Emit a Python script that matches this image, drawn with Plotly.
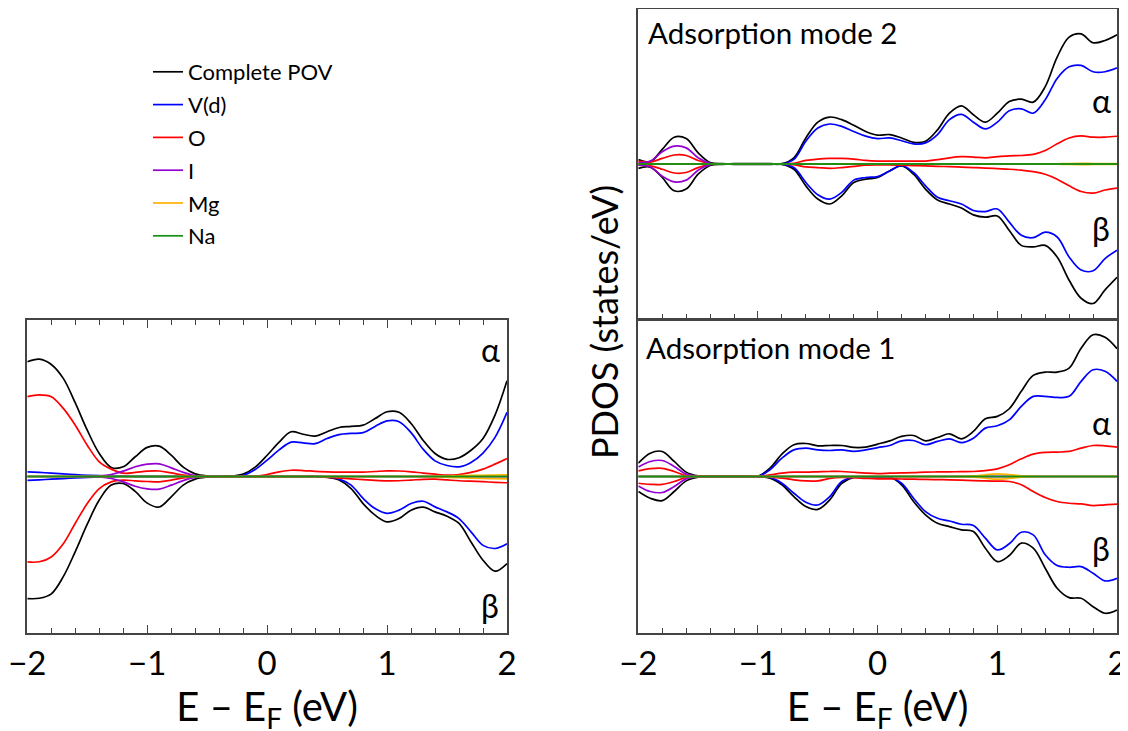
import plotly.graph_objects as go

# Energy grid (eV, relative to Fermi level)
E = [-2.0, -1.9, -1.8, -1.7, -1.6, -1.5, -1.4, -1.3, -1.2, -1.1, -1.0,
     -0.9, -0.8, -0.7, -0.6, -0.5, -0.4, -0.3, -0.2, -0.1, 0.0,
     0.1, 0.2, 0.3, 0.4, 0.5, 0.6, 0.7, 0.8, 0.9, 1.0,
     1.1, 1.2, 1.3, 1.4, 1.5, 1.6, 1.7, 1.8, 1.9, 2.0]

SERIES = ["Complete POV", "V(d)", "O", "I", "Mg", "Na"]
COLORS = ["#000000", "#0000FF", "#FF0000", "#9400D3", "#FFB300", "#158E15"]

# ---------------- Left panel (complete POV) ----------------
L_tot_up = [7.33, 7.5, 7.16, 6.27, 4.7, 2.96, 1.47, 0.58, 0.62, 1.26, 1.86,
            1.94, 1.36, 0.6, 0.17, 0.03, 0.0, 0.02, 0.15, 0.6, 1.36,
            2.2, 2.86, 2.7, 2.58, 2.86, 3.13, 3.2, 3.28, 3.7, 4.14,
            4.1, 3.39, 2.32, 1.47, 1.1, 1.2, 1.68, 2.43, 3.92, 6.12]
L_tot_dn = [-7.8, -7.78, -7.5, -6.4, -4.8, -3.05, -1.5, -0.55, -0.45, -0.95, -1.7,
            -1.95, -1.3, -0.55, -0.17, -0.04, 0.0, 0.0, 0.0, 0.0, 0.0,
            0.0, 0.0, 0.0, 0.0, -0.04, -0.23, -0.77, -1.73, -2.47, -2.9,
            -2.69, -2.15, -1.96, -2.26, -2.54, -3.0, -4.18, -5.35, -6.05, -5.56]
L_vd_up = [0.3, 0.26, 0.22, 0.17, 0.12, 0.08, 0.05, 0.03, 0.02, 0.01, 0.01,
           0.01, 0.01, 0.0, 0.0, 0.0, 0.0, 0.01, 0.08, 0.45, 1.05,
           1.7, 2.2, 2.15, 2.1, 2.43, 2.68, 2.75, 2.8, 3.2, 3.55,
           3.5, 2.8, 1.75, 1.0, 0.7, 0.62, 0.9, 1.5, 2.5, 4.1]
L_vd_dn = [-0.25, -0.21, -0.17, -0.13, -0.09, -0.06, -0.04, -0.02, -0.01, -0.01, -0.01,
           -0.01, 0.0, 0.0, 0.0, 0.0, 0.0, 0.0, 0.0, 0.0, 0.0,
           0.0, 0.0, 0.0, 0.0, -0.03, -0.17, -0.55, -1.4, -2.05, -2.35,
           -2.15, -1.73, -1.58, -1.94, -2.26, -2.69, -3.54, -4.4, -4.6, -4.3]
L_o_up = [5.1, 5.22, 5.1, 4.35, 3.28, 2.0, 0.94, 0.47, 0.21, 0.26, 0.34,
          0.35, 0.23, 0.09, 0.02, 0.0, 0.0, 0.0, 0.0, 0.03, 0.13,
          0.3, 0.4, 0.38, 0.33, 0.3, 0.28, 0.28, 0.28, 0.32, 0.36,
          0.35, 0.3, 0.22, 0.15, 0.09, 0.13, 0.26, 0.47, 0.79, 1.15]
L_o_dn = [-5.46, -5.45, -5.14, -4.3, -2.99, -1.73, -0.77, -0.34, -0.23, -0.28, -0.32,
          -0.34, -0.23, -0.09, -0.03, -0.01, -0.01, -0.01, -0.01, -0.01, -0.01,
          -0.01, -0.01, -0.01, -0.01, -0.05, -0.1, -0.15, -0.2, -0.25, -0.28,
          -0.27, -0.23, -0.18, -0.17, -0.22, -0.27, -0.3, -0.33, -0.37, -0.4]
L_i_up = [0.0, 0.0, 0.0, 0.0, 0.0, 0.0, 0.03, 0.13, 0.34, 0.62, 0.79,
          0.81, 0.55, 0.26, 0.06, 0.01, 0.0, 0.0, 0.0, 0.0, 0.0,
          0.0, 0.0, 0.0, 0.0, 0.0, 0.0, 0.0, 0.0, 0.0, 0.0,
          0.0, 0.0, 0.0, 0.0, 0.0, 0.0, 0.0, 0.0, 0.0, 0.0]
L_i_dn = [0.0, 0.0, 0.0, 0.0, 0.0, 0.0, -0.03, -0.13, -0.34, -0.62, -0.79,
          -0.81, -0.55, -0.26, -0.06, -0.01, 0.0, 0.0, 0.0, 0.0, 0.0,
          0.0, 0.0, 0.0, 0.0, 0.0, 0.0, 0.0, 0.0, 0.0, 0.0,
          0.0, 0.0, 0.0, 0.0, 0.0, 0.0, 0.0, 0.0, 0.0, 0.0]
L_mg_up = [0.0, 0.0, 0.0, 0.0, 0.0, 0.0, 0.0, 0.0, 0.0, 0.0, 0.0,
           0.0, 0.0, 0.0, 0.0, 0.0, 0.0, 0.0, 0.0, 0.0, 0.0,
           0.0, 0.0, 0.0, 0.0, 0.0, 0.0, 0.0, 0.0, 0.0, 0.0,
           0.0, 0.0, 0.0, 0.01, 0.03, 0.05, 0.07, 0.08, 0.09, 0.1]
L_mg_dn = [0.0, 0.0, 0.0, 0.0, 0.0, 0.0, 0.0, 0.0, 0.0, 0.0, 0.0,
           0.0, 0.0, 0.0, 0.0, 0.0, 0.0, 0.0, 0.0, 0.0, 0.0,
           0.0, 0.0, 0.0, 0.0, 0.0, 0.0, 0.0, 0.0, 0.0, 0.0,
           0.0, 0.0, 0.0, -0.02, -0.05, -0.08, -0.1, -0.12, -0.14, -0.15]
L_na_up = [0.0, 0.0, 0.0, 0.0, 0.0, 0.0, 0.0, 0.0, 0.0, 0.0, 0.0,
           0.0, 0.0, 0.0, 0.0, 0.0, 0.0, 0.0, 0.0, 0.0, 0.0,
           0.0, 0.0, 0.0, 0.0, 0.0, 0.0, 0.0, 0.0, 0.0, 0.0,
           0.0, 0.0, 0.0, 0.0, 0.0, 0.0, 0.0, 0.0, 0.0, 0.0]
L_na_dn = [0.0, 0.0, 0.0, 0.0, 0.0, 0.0, 0.0, 0.0, 0.0, 0.0, 0.0,
           0.0, 0.0, 0.0, 0.0, 0.0, 0.0, 0.0, 0.0, 0.0, 0.0,
           0.0, 0.0, 0.0, 0.0, 0.0, 0.0, 0.0, 0.0, 0.0, 0.0,
           0.0, 0.0, 0.0, 0.0, 0.0, 0.0, 0.0, 0.0, 0.0, 0.0]

# ---------------- Adsorption mode 2 (right top) ----------------
M2_tot_up = [0.28, 0.15, 0.94, 1.73, 1.64, 0.72, 0.1, 0.02, 0.02, 0.02, 0.02,
             0.02, 0.02, 0.4, 1.68, 2.7, 3.03, 2.86, 2.5, 2.1, 1.86,
             1.9, 1.68, 1.4, 1.47, 2.2, 3.28, 3.75, 3.18, 2.7, 3.28,
             4.03, 4.18, 3.99, 4.99, 6.9, 8.19, 8.4, 7.82, 7.97, 8.34]
M2_tot_dn = [-0.28, -0.2, -0.87, -1.73, -1.62, -0.66, -0.1, -0.02, -0.02, -0.02, -0.02,
             -0.02, -0.02, -0.34, -1.41, -2.26, -2.58, -2.05, -1.19, -0.98, -0.87,
             -0.45, -0.13, -0.66, -1.62, -2.32, -2.58, -2.84, -3.28, -3.43, -3.35,
             -4.29, -5.25, -5.35, -5.25, -6.0, -7.5, -8.66, -9.0, -8.12, -7.31]
M2_vd_up = [0.0, 0.0, 0.0, 0.0, 0.0, 0.0, 0.0, 0.0, 0.0, 0.0, 0.0,
            0.0, 0.0, 0.3, 1.47, 2.32, 2.58, 2.43, 2.1, 1.8, 1.64,
            1.68, 1.5, 1.3, 1.36, 1.9, 2.86, 3.2, 2.7, 2.26, 2.7,
            3.43, 3.56, 3.28, 4.14, 5.52, 6.27, 6.36, 5.95, 5.95, 6.2]
M2_vd_dn = [0.0, 0.0, 0.0, 0.0, 0.0, 0.0, 0.0, 0.0, 0.0, 0.0, 0.0,
            0.0, 0.0, -0.23, -1.19, -1.98, -2.26, -1.83, -1.04, -0.87, -0.81,
            -0.45, -0.09, -0.55, -1.41, -2.15, -2.37, -2.58, -3.0, -3.07, -2.9,
            -3.75, -4.6, -4.75, -4.4, -4.71, -6.0, -6.84, -6.89, -6.1, -5.56]
M2_o_up = [0.19, 0.12, 0.36, 0.58, 0.55, 0.23, 0.03, 0.01, 0.01, 0.01, 0.01,
           0.01, 0.01, 0.05, 0.23, 0.32, 0.36, 0.36, 0.32, 0.23, 0.19,
           0.19, 0.19, 0.19, 0.19, 0.28, 0.4, 0.47, 0.45, 0.4, 0.47,
           0.53, 0.55, 0.62, 0.87, 1.3, 1.68, 1.81, 1.73, 1.73, 1.79]
M2_o_dn = [-0.08, -0.12, -0.34, -0.58, -0.55, -0.23, -0.03, -0.01, -0.01, -0.01, -0.01,
           -0.01, -0.01, -0.05, -0.19, -0.23, -0.28, -0.23, -0.15, -0.08, -0.06,
           -0.06, -0.08, -0.1, -0.12, -0.15, -0.17, -0.2, -0.23, -0.26, -0.3,
           -0.34, -0.4, -0.49, -0.66, -0.98, -1.41, -1.77, -1.88, -1.68, -1.56]
M2_i_up = [0.08, 0.19, 0.79, 1.15, 1.04, 0.4, 0.04, 0.0, 0.0, 0.0, 0.0,
           0.0, 0.0, 0.0, 0.0, 0.0, 0.0, 0.0, 0.0, 0.0, 0.0,
           0.0, 0.0, 0.0, 0.0, 0.0, 0.0, 0.0, 0.0, 0.0, 0.0,
           0.0, 0.0, 0.0, 0.0, 0.0, 0.0, 0.0, 0.0, 0.0, 0.0]
M2_i_dn = [-0.08, -0.19, -0.79, -1.15, -1.04, -0.4, -0.04, 0.0, 0.0, 0.0, 0.0,
           0.0, 0.0, 0.0, 0.0, 0.0, 0.0, 0.0, 0.0, 0.0, 0.0,
           0.0, 0.0, 0.0, 0.0, 0.0, 0.0, 0.0, 0.0, 0.0, 0.0,
           0.0, 0.0, 0.0, 0.0, 0.0, 0.0, 0.0, 0.0, 0.0, 0.0]
M2_mg_up = [0.0, 0.0, 0.0, 0.0, 0.0, 0.0, 0.0, 0.0, 0.0, 0.0, 0.0,
            0.0, 0.0, 0.0, 0.0, 0.0, 0.0, 0.0, 0.0, 0.0, 0.0,
            0.0, 0.0, 0.0, 0.0, 0.0, 0.0, 0.0, 0.0, 0.0, 0.0,
            0.0, 0.0, 0.0, 0.0, 0.01, 0.03, 0.04, 0.03, 0.02, 0.02]
M2_mg_dn = [0.0, 0.0, 0.0, 0.0, 0.0, 0.0, 0.0, 0.0, 0.0, 0.0, 0.0,
            0.0, 0.0, 0.0, 0.0, 0.0, 0.0, 0.0, 0.0, 0.0, 0.0,
            0.0, 0.0, 0.0, 0.0, 0.0, 0.0, 0.0, 0.0, 0.0, 0.0,
            0.0, 0.0, 0.0, 0.0, -0.01, -0.03, -0.04, -0.03, -0.02, -0.02]
M2_na_up = [0.0, 0.0, 0.0, 0.0, 0.0, 0.0, 0.0, 0.0, 0.0, 0.0, 0.0,
            0.0, 0.0, 0.0, 0.0, 0.0, 0.0, 0.0, 0.0, 0.0, 0.0,
            0.0, 0.0, 0.0, 0.0, 0.0, 0.0, 0.0, 0.0, 0.0, 0.0,
            0.0, 0.0, 0.0, 0.0, 0.0, 0.0, 0.0, 0.0, 0.0, 0.0]
M2_na_dn = [0.0, 0.0, 0.0, 0.0, 0.0, 0.0, 0.0, 0.0, 0.0, 0.0, 0.0,
            0.0, 0.0, 0.0, 0.0, 0.0, 0.0, 0.0, 0.0, 0.0, 0.0,
            0.0, 0.0, 0.0, 0.0, 0.0, 0.0, 0.0, 0.0, 0.0, 0.0,
            0.0, 0.0, 0.0, 0.0, 0.0, 0.0, 0.0, 0.0, 0.0, 0.0]

# ---------------- Adsorption mode 1 (right bottom) ----------------
M1_tot_up = [0.85, 1.49, 1.6, 0.96, 0.28, 0.04, 0.02, 0.02, 0.02, 0.02, 0.02,
             0.53, 1.43, 2.03, 2.11, 1.96, 1.98, 1.98, 1.86, 1.88, 2.07,
             2.28, 2.56, 2.62, 2.28, 2.49, 2.73, 2.41, 2.88, 3.69, 3.84,
             4.33, 5.44, 6.46, 6.67, 6.67, 6.93, 8.2, 9.06, 8.9, 8.17]
M1_tot_dn = [-0.96, -1.39, -1.54, -0.96, -0.28, -0.04, -0.02, -0.02, -0.02, -0.02, -0.02,
             -0.1, -0.53, -1.28, -1.92, -2.1, -1.49, -0.43, -0.06, -0.05, -0.05,
             -0.05, -0.53, -1.6, -2.45, -2.99, -3.2, -3.41, -3.52, -4.58, -5.44,
             -5.05, -4.26, -4.58, -5.86, -7.14, -7.74, -7.78, -8.32, -8.74, -8.53]
M1_vd_up = [0.0, 0.0, 0.0, 0.0, 0.0, 0.0, 0.0, 0.0, 0.0, 0.0, 0.0,
            0.43, 1.17, 1.7, 1.81, 1.7, 1.66, 1.7, 1.6, 1.7, 1.85,
            1.98, 2.28, 2.3, 2.03, 2.24, 2.4, 2.17, 2.45, 3.09, 3.24,
            3.62, 4.48, 5.12, 5.12, 5.05, 5.12, 6.08, 6.82, 6.72, 6.08]
M1_vd_dn = [0.0, 0.0, 0.0, 0.0, 0.0, 0.0, 0.0, 0.0, 0.0, 0.0, 0.0,
            -0.06, -0.43, -1.07, -1.64, -1.82, -1.28, -0.32, -0.05, -0.05, -0.05,
            -0.05, -0.43, -1.39, -2.24, -2.67, -2.84, -3.05, -3.13, -3.94, -4.69,
            -4.3, -3.56, -3.73, -5.0, -5.69, -5.8, -5.76, -6.18, -6.67, -6.5]
M1_o_up = [0.36, 0.5, 0.52, 0.32, 0.06, 0.01, 0.01, 0.01, 0.01, 0.01, 0.01,
           0.1, 0.21, 0.28, 0.28, 0.3, 0.32, 0.32, 0.27, 0.22, 0.19,
           0.21, 0.23, 0.25, 0.28, 0.29, 0.3, 0.31, 0.32, 0.38, 0.49,
           0.75, 1.13, 1.43, 1.54, 1.56, 1.6, 1.81, 1.98, 1.96, 1.88]
M1_o_dn = [-0.43, -0.5, -0.5, -0.32, -0.06, -0.01, -0.01, -0.01, -0.01, -0.01, -0.01,
           -0.04, -0.1, -0.21, -0.28, -0.28, -0.12, -0.06, -0.08, -0.12, -0.15,
           -0.15, -0.16, -0.17, -0.19, -0.2, -0.21, -0.23, -0.26, -0.28, -0.3,
           -0.32, -0.53, -0.96, -1.34, -1.6, -1.71, -1.75, -1.86, -1.81, -1.77]
M1_i_up = [0.6, 0.96, 1.02, 0.64, 0.15, 0.02, 0.0, 0.0, 0.0, 0.0, 0.0,
           0.0, 0.0, 0.0, 0.0, 0.0, 0.0, 0.0, 0.0, 0.0, 0.0,
           0.0, 0.0, 0.0, 0.0, 0.0, 0.0, 0.0, 0.0, 0.0, 0.0,
           0.0, 0.0, 0.0, 0.0, 0.0, 0.0, 0.0, 0.0, 0.0, 0.0]
M1_i_dn = [-0.6, -0.96, -1.02, -0.64, -0.15, -0.02, 0.0, 0.0, 0.0, 0.0, 0.0,
           0.0, 0.0, 0.0, 0.0, 0.0, 0.0, 0.0, 0.0, 0.0, 0.0,
           0.0, 0.0, 0.0, 0.0, 0.0, 0.0, 0.0, 0.0, 0.0, 0.0,
           0.0, 0.0, 0.0, 0.0, 0.0, 0.0, 0.0, 0.0, 0.0, 0.0]
M1_mg_up = [0.0, 0.0, 0.0, 0.0, 0.0, 0.0, 0.0, 0.0, 0.0, 0.0, 0.0,
            0.0, 0.0, 0.0, 0.0, 0.0, 0.0, 0.0, 0.0, 0.0, 0.0,
            0.0, 0.0, 0.0, 0.0, 0.0, 0.0, 0.01, 0.04, 0.11, 0.17,
            0.12, 0.04, 0.01, 0.0, 0.0, 0.0, 0.0, 0.0, 0.0, 0.0]
M1_mg_dn = [0.0, 0.0, 0.0, 0.0, 0.0, 0.0, 0.0, 0.0, 0.0, 0.0, 0.0,
            0.0, 0.0, 0.0, 0.0, 0.0, 0.0, 0.0, 0.0, 0.0, 0.0,
            0.0, 0.0, 0.0, 0.0, 0.0, 0.0, -0.01, -0.04, -0.11, -0.17,
            -0.12, -0.04, -0.01, 0.0, 0.0, 0.0, 0.0, 0.0, 0.0, 0.0]
M1_na_up = [0.0, 0.0, 0.0, 0.0, 0.0, 0.0, 0.0, 0.0, 0.0, 0.0, 0.0,
            0.0, 0.0, 0.0, 0.0, 0.0, 0.0, 0.0, 0.0, 0.0, 0.0,
            0.0, 0.0, 0.0, 0.0, 0.0, 0.0, 0.0, 0.0, 0.0, 0.0,
            0.0, 0.0, 0.0, 0.0, 0.0, 0.0, 0.0, 0.0, 0.0, 0.0]
M1_na_dn = [0.0, 0.0, 0.0, 0.0, 0.0, 0.0, 0.0, 0.0, 0.0, 0.0, 0.0,
            0.0, 0.0, 0.0, 0.0, 0.0, 0.0, 0.0, 0.0, 0.0, 0.0,
            0.0, 0.0, 0.0, 0.0, 0.0, 0.0, 0.0, 0.0, 0.0, 0.0,
            0.0, 0.0, 0.0, 0.0, 0.0, 0.0, 0.0, 0.0, 0.0, 0.0]

X_TICKS = [-2, -1, 0, 1, 2]
FONT = "Lato, 'Open Sans', sans-serif"

W, H = 1128, 731
OFF = 8  # the page body adds an 8px margin; layout positions compensate for it


def px(x):
    return min(1.0, max(0.0, (x - OFF) / W))


def py(y):
    return min(1.0, max(0.0, 1 - (y - OFF) / H))


panels = [
    ("x", "y", [(L_tot_up, L_tot_dn), (L_vd_up, L_vd_dn), (L_o_up, L_o_dn),
                (L_i_up, L_i_dn), (L_mg_up, L_mg_dn), (L_na_up, L_na_dn)]),
    ("x2", "y2", [(M2_tot_up, M2_tot_dn), (M2_vd_up, M2_vd_dn), (M2_o_up, M2_o_dn),
                  (M2_i_up, M2_i_dn), (M2_mg_up, M2_mg_dn), (M2_na_up, M2_na_dn)]),
    ("x3", "y3", [(M1_tot_up, M1_tot_dn), (M1_vd_up, M1_vd_dn), (M1_o_up, M1_o_dn),
                  (M1_i_up, M1_i_dn), (M1_mg_up, M1_mg_dn), (M1_na_up, M1_na_dn)]),
]

fig = go.Figure()
for pi, (xa, ya, series) in enumerate(panels):
    for si, (up, dn) in enumerate(series):
        for k, vals in enumerate((up, dn)):
            fig.add_trace(go.Scatter(
                x=E, y=vals, xaxis=xa, yaxis=ya, mode="lines",
                line=dict(color=COLORS[si], width=1.7, shape="spline", smoothing=1.0),
                name=SERIES[si], legendgroup=SERIES[si],
                showlegend=(pi == 0 and k == 0), hoverinfo="skip"))

FRAME = "#444444"
common_x = dict(range=[-2, 2], tickvals=X_TICKS, ticks="inside", ticklen=8, tickwidth=1.2,
                tickcolor=FRAME, showline=True, linecolor=FRAME, linewidth=2,
                showgrid=False, zeroline=False, automargin=False,
                minor=dict(dtick=0.2, ticks="inside", ticklen=5, tickcolor=FRAME, tickwidth=1.2),
                tickfont=dict(size=33, color="black", family=FONT))
common_y = dict(range=[-10, 10], showline=True, linecolor=FRAME, linewidth=2, mirror=True,
                ticks="", showticklabels=False, showgrid=False, zeroline=False,
                automargin=False)

xtitle = dict(text="E – E<sub>F</sub> (eV)", font=dict(size=40, color="black", family=FONT),
              standoff=5)

fig.update_layout(
    width=W, height=H,
    margin=dict(l=0, r=0, t=0, b=0, autoexpand=False),
    paper_bgcolor="white", plot_bgcolor="white",
    font=dict(family=FONT, color="black"),
    xaxis=dict(domain=[px(27.3), px(507)], anchor="y", mirror="ticks", title=xtitle, **common_x),
    yaxis=dict(domain=[py(633), py(320)], anchor="x", **common_y),
    xaxis2=dict(domain=[px(638.3), px(1117)], anchor="y2", mirror=True,
                showticklabels=False, **common_x),
    yaxis2=dict(domain=[py(319), py(9)], anchor="x2", **common_y),
    xaxis3=dict(domain=[px(638.3), px(1117)], anchor="y3", mirror=True, title=xtitle, **common_x),
    yaxis3=dict(domain=[py(633), py(320)], anchor="x3", **common_y),
    legend=dict(x=px(148), y=py(51), xanchor="left", yanchor="top",
                bgcolor="rgba(0,0,0,0)", font=dict(size=22, color="black", family=FONT),
                tracegroupgap=1.2, itemwidth=30),
    showlegend=True,
)


def ann(text, x, y, size, xanchor="center", angle=0):
    fig.add_annotation(text=text, x=px(x), y=py(y), xref="paper", yref="paper",
                       showarrow=False, xanchor=xanchor, yanchor="middle", textangle=angle,
                       font=dict(size=size, color="black", family=FONT))


ann("α", 490, 349, 32)
ann("β", 490, 605, 32)
ann("α", 1101, 101, 32)
ann("β", 1101, 228, 32)
ann("α", 1101, 423, 32)
ann("β", 1101, 548, 32)
ann("Adsorption mode 2", 646, 32, 29.5, xanchor="left")
ann("Adsorption mode 1", 644, 348, 29.5, xanchor="left")
ann("PDOS (states/eV)", 604, 322, 36, angle=-90)

fig.write_html("out.html")
